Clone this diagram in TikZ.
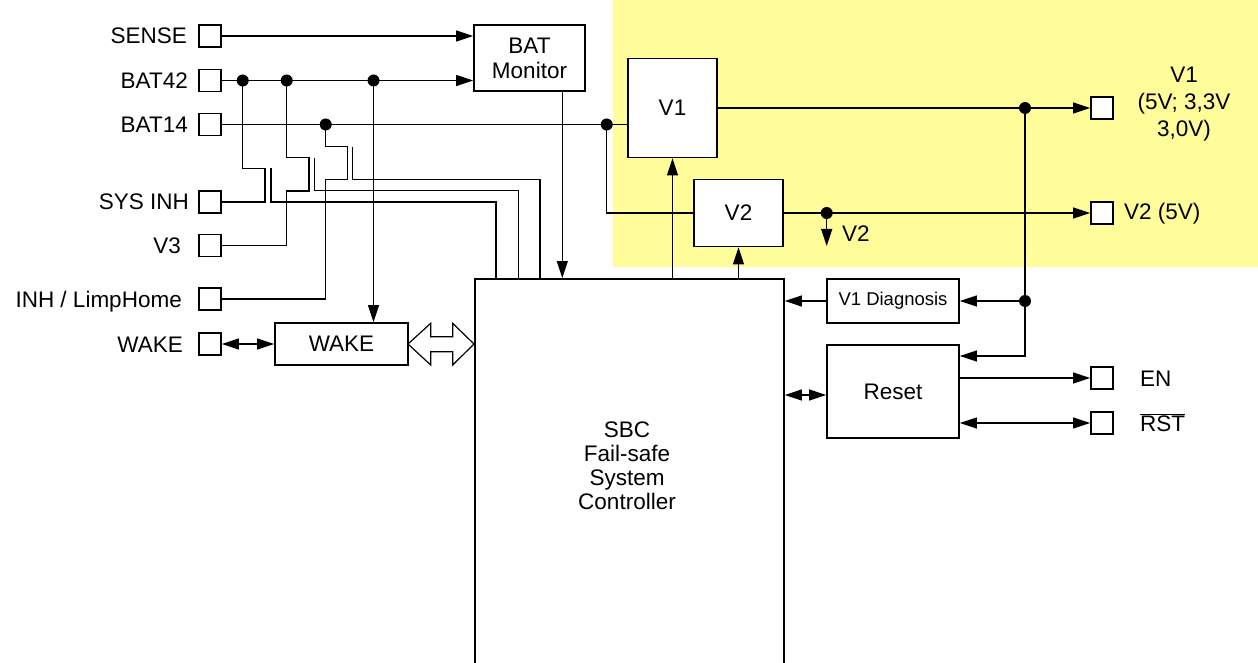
\documentclass[tikz,border=0pt]{standalone}
\usepackage{fontspec}
\setmainfont{Liberation Sans}
\usetikzlibrary{arrows.meta}
\definecolor{bgyellow}{RGB}{255,253,153}
\begin{document}
\begin{tikzpicture}[x=1pt,y=-1pt,
  wire/.style={line width=1.2pt},
  arr/.style={wire,-{Triangle[length=17pt,width=11pt]}},
  darr/.style={wire,{Triangle[length=17pt,width=11pt]}-{Triangle[length=17pt,width=11pt]}},
  blk/.style={draw,line width=1.8pt,fill=white,inner sep=0pt,align=center,font=\fontsize{22.5}{25}\selectfont},
  pin/.style={draw,line width=1.8pt,fill=white,minimum size=22pt,inner sep=0pt},
  lbl/.style={inner sep=0pt,font=\fontsize{22.5}{27}\selectfont},
  dot/.style={circle,fill=black,inner sep=0pt,minimum size=12pt}]
\useasboundingbox (0,0) rectangle (1258,663);
\fill[bgyellow] (613,0) rectangle (1258,267);

% blocks
\node[blk,minimum width=111pt,minimum height=66pt] (bm) at (529.5,58) {BAT\\Monitor};
\node[blk,minimum width=89pt,minimum height=99pt] (v1) at (672.5,108) {V1};
\node[blk,minimum width=89pt,minimum height=67pt] (v2) at (738.5,213) {V2};
\node[blk,minimum width=133pt,minimum height=42pt] (wake) at (341.5,344) {WAKE};
\node[blk,minimum width=132pt,minimum height=44pt,font=\fontsize{18.5}{20}\selectfont] (diag) at (893,301) {V1 Diagnosis};
\node[blk,minimum width=132pt,minimum height=93pt] (reset) at (893,391.5) {Reset};
\node[blk,minimum width=309pt,minimum height=430pt,anchor=north west] (sbc) at (474,278) {};
\node[lbl,align=center,font=\fontsize{22.5}{24}\selectfont] (sbct) at (627,466) {SBC\\Fail-safe\\System\\Controller};

% pins
\node[pin] (pSENSE) at (210,36) {};
\node[pin] (pB42) at (210,80.5) {};
\node[pin] (pB14) at (210,124.5) {};
\node[pin] (pSYS) at (210,202) {};
\node[pin] (pV3) at (210,245.5) {};
\node[pin] (pINH) at (210,299) {};
\node[pin] (pWAKE) at (210,344) {};
\node[pin] (pV1) at (1102,108) {};
\node[pin] (pV2) at (1102,213) {};
\node[pin] (pEN) at (1102,378) {};
\node[pin] (pRST) at (1102,423) {};

% pin labels
\node[lbl,anchor=base east] (tSENSE) at (187,44) {SENSE};
\node[lbl,anchor=base east] (tB42) at (188,88.5) {BAT42};
\node[lbl,anchor=base east] (tB14) at (188,132.5) {BAT14};
\node[lbl,anchor=base east] (tSYS) at (189,210) {SYS INH};
\node[lbl,anchor=base east] (tV3) at (181,253.5) {V3};
\node[lbl,anchor=base east] (tINH) at (182,307) {INH / LimpHome};
\node[lbl,anchor=base east] (tWAKE) at (183,352) {WAKE};
\node[lbl,align=center] (tV1) at (1184,104) {V1\\(5V; 3,3V\\3,0V)};
\node[lbl,anchor=base west] (tV2) at (1124,219) {V2 (5V)};
\node[lbl,anchor=base west] (tEN) at (1140,386) {EN};
\node[lbl,anchor=base west] (tRST) at (1140,431) {$\overline{\hbox{RST}}$};
\node[lbl,anchor=base west] (tV2b) at (842,241) {V2};

% junction coordinates
\coordinate (j1) at (242.7,80.5);
\coordinate (j2) at (286.7,80.5);
\coordinate (j3) at (373.5,80.5);
\coordinate (j4) at (325.7,124.5);
\coordinate (j5) at (606.7,124.5);
\coordinate (j6) at (1025,108);
\coordinate (j7) at (1025,301);
\coordinate (j8) at (826.7,213);
\coordinate (s1) at (496,278);
\coordinate (s2) at (518.3,278);
\coordinate (s3) at (540,278);
\coordinate (s4) at (562.3,278);

% left wires
\draw[arr] (pSENSE.east) -- (bm.west |- pSENSE);
\draw[arr] (pB42.east) -- (bm.west |- pB42);
\draw[wire] (pB14.east) -- (v1.west |- pB14);
\draw[wire] (pSYS.east) -- (265,202) -- (265,168.3) -- (242.7,168.3) -- (j1);
\draw[wire] (271,168.3) -- (271,202) -- (496,202) -- (s1);
\draw[wire] (pV3.east) -- (286.7,245.5) -- (286.7,191) -- (309,191) -- (309,157.7) -- (286.7,157.7) -- (j2);
\draw[wire] (314.3,157.7) -- (314.3,190.7) -- (518.3,190.7) -- (s2);
\draw[wire] (pINH.east) -- (325.7,299) -- (325.7,179.3) -- (347.7,179.3) -- (347.7,146.7) -- (325.7,146.7) -- (j4);
\draw[wire] (352.7,146.7) -- (352.7,179.3) -- (540,179.3) -- (s3);
\draw[arr] (j3) -- (wake.north -| j3);
\draw[arr] (bm.south -| s4) -- (s4);
\draw[darr] (pWAKE.east) -- (wake.west);
\draw[wire,fill=white] (408,344) -- (430.7,323.3) -- (430.7,336.7) -- (452.7,336.7) -- (452.7,323.3)
  -- (474,344) -- (452.7,365) -- (452.7,351.7) -- (430.7,351.7) -- (430.7,365) -- cycle;

% regulators
\draw[wire] (j5) |- (v2.west);
\draw[arr] (v1.south |- sbc.north) -- (v1.south);
\draw[arr] (v2.south |- sbc.north) -- (v2.south);
\draw[arr] (v1.east |- pV1) -- (pV1.west);
\draw[arr] (v2.east) -- (pV2.west);
\draw[arr] (j8) -- (826.7,246);

% right side
\draw[arr] (j6) |- (reset.east |- 0,356);
\draw[arr] (j7) -- (diag.east);
\draw[arr] (diag.west) -- (diag.west -| sbc.east);
\draw[darr] (sbc.east |- 0,395) -- (reset.west |- 0,395);
\draw[arr] (reset.east |- pEN) -- (pEN.west);
\draw[darr] (reset.east |- pRST) -- (pRST.west);

% dots
\foreach \j in {j1,j2,j3,j4,j5,j6,j7,j8} \node[dot] at (\j) {};
\end{tikzpicture}
\end{document}
